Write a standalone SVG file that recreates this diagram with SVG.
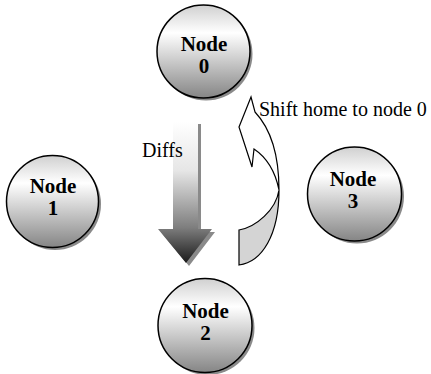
<svg xmlns="http://www.w3.org/2000/svg" width="431" height="374" viewBox="0 0 431 374">
  <defs>
    <linearGradient id="nodeGrad" x1="0" y1="0" x2="0" y2="1">
      <stop offset="0" stop-color="#d0d0d0"/>
      <stop offset="0.3" stop-color="#ffffff"/>
      <stop offset="1" stop-color="#858585"/>
    </linearGradient>
    <linearGradient id="diffGrad" gradientUnits="userSpaceOnUse" x1="0" y1="121" x2="0" y2="263">
      <stop offset="0" stop-color="#ffffff"/>
      <stop offset="0.35" stop-color="#e6e6e6"/>
      <stop offset="0.75" stop-color="#7e7e7e"/>
      <stop offset="1" stop-color="#1a1a1a"/>
    </linearGradient>
  </defs>
  <style>
    .shadow { fill: #8a8a8a; }
    .node { fill: url(#nodeGrad); stroke: #000; stroke-width: 1.5; }
    .ntext { font-family: "Liberation Serif", "Times New Roman", serif; font-weight: bold; font-size: 21px; fill: #000; text-anchor: middle; }
    .label { font-family: "Liberation Serif", "Times New Roman", serif; font-size: 20px; fill: #000; }
    .curve { stroke: #000; stroke-width: 1.2; stroke-linejoin: miter; }
  </style>
  <rect width="431" height="374" fill="#ffffff"/>

  <g id="node0">
    <circle class="shadow" cx="206" cy="54" r="46.5"/>
    <circle class="node" cx="203.5" cy="51.5" r="46.5"/>
    <text class="ntext" x="204" y="51">Node</text>
    <text class="ntext" x="204" y="73">0</text>
  </g>
  <g id="node1">
    <circle class="shadow" cx="55" cy="204" r="46"/>
    <circle class="node" cx="52.5" cy="201.5" r="46"/>
    <text class="ntext" x="53" y="193">Node</text>
    <text class="ntext" x="53" y="215">1</text>
  </g>
  <g id="node2">
    <circle class="shadow" cx="207.5" cy="328" r="47"/>
    <circle class="node" cx="205" cy="325.5" r="47"/>
    <text class="ntext" x="205.5" y="318">Node</text>
    <text class="ntext" x="205.5" y="340">2</text>
  </g>
  <g id="node3">
    <circle class="shadow" cx="357" cy="196.5" r="47"/>
    <circle class="node" cx="354.5" cy="194" r="47"/>
    <text class="ntext" x="353" y="186">Node</text>
    <text class="ntext" x="353" y="208">3</text>
  </g>

  <g id="connectors">
    <g id="diffs-arrow">
      <path class="shadow" d="M176,124 L201,124 L201,232 L215,232 L189,266 L161,232 L176,232 Z"/>
      <path fill="url(#diffGrad)" d="M173,121 L198,121 L198,229 L212,229 L186,263 L158,229 L173,229 Z"/>
      <text class="label" x="142" y="157">Diffs</text>
    </g>
    <g id="shift-arrow">
      <path class="curve" fill="#d4d4d4" d="M279,190 C279,235 262,262 239,265 L239,230 C256,227 276,210 279,190 Z"/>
      <path class="curve" fill="#ffffff" d="M251,97 L239,127 L252,167 L254,149 C266,157 275,170 279,190 C279,155 270,128 255,112 Z"/>
      <text class="label" x="259" y="116">Shift home to node 0</text>
    </g>
  </g>
</svg>
